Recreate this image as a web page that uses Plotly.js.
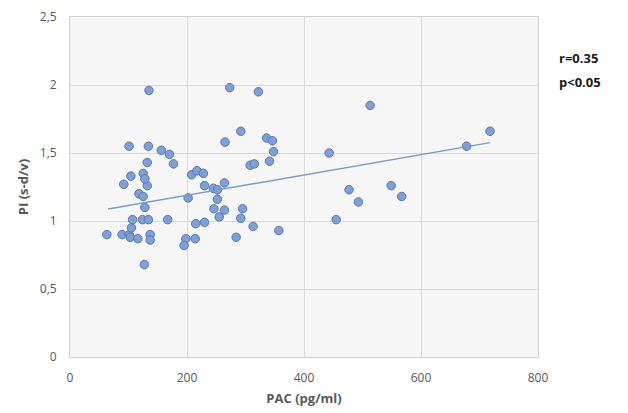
<!DOCTYPE html>
<html>
<head>
<meta charset="utf-8">
<script src="https://cdn.plot.ly/plotly-3.0.1.min.js"></script>
<style>html,body{margin:0;padding:0;background:#fff;}#chart{width:628px;height:413px;}</style>
</head>
<body>
<div id="chart"></div>
<script>
// PAC (pg/ml) values
var pac = [63, 89, 101, 105, 103, 116, 137, 137, 127, 107, 124, 134, 167, 128, 118, 125, 92, 132, 125, 128, 104, 132, 101, 134, 156, 170, 177, 135,
           208, 217, 228, 230, 245, 252, 264, 252, 202, 246, 264, 255, 215, 230, 198, 214, 195, 265, 292, 336, 346, 348, 341, 308, 315, 295, 292, 313, 284, 357, 273, 322,
           443, 477, 493, 455, 513, 549, 567, 678, 718];
// PI (s-d/v) values
var pi = [0.90, 0.90, 0.90, 0.95, 0.88, 0.87, 0.90, 0.86, 0.68, 1.01, 1.01, 1.01, 1.01, 1.10, 1.20, 1.18, 1.27, 1.26, 1.35, 1.31, 1.33, 1.43, 1.55, 1.55, 1.52, 1.49, 1.42, 1.96,
          1.34, 1.37, 1.35, 1.26, 1.24, 1.23, 1.28, 1.16, 1.17, 1.09, 1.08, 1.03, 0.98, 0.99, 0.87, 0.87, 0.82, 1.58, 1.66, 1.61, 1.59, 1.51, 1.44, 1.41, 1.42, 1.09, 1.02, 0.96, 0.88, 0.93, 1.98, 1.95,
          1.50, 1.23, 1.14, 1.01, 1.85, 1.26, 1.18, 1.55, 1.66];
// linear trend line
var trendX = [65, 718];
var trendY = [1.088, 1.576];
var xTicks = [0, 200, 400, 600, 800];
var xTickText = ['0', '200', '400', '600', '800'];
var yTicks = [0, 0.5, 1, 1.5, 2, 2.5];
var yTickText = ['0', '0,5', '1', '1,5', '2', '2,5'];

var traces = [
  {x: pac, y: pi, type: 'scatter', mode: 'markers',
   marker: {size: 8.5, color: '#7f9fd6', line: {color: '#5877b0', width: 1}}, hoverinfo: 'x+y'},
  {x: trendX, y: trendY, type: 'scatter', mode: 'lines',
   line: {color: '#7b9cc8', width: 1.4}, hoverinfo: 'skip'}
];

var fontFam = '"Open Sans", "Liberation Sans", sans-serif';
var layout = {
  width: 628, height: 413,
  margin: {l: 70, r: 90, t: 17, b: 56},
  paper_bgcolor: '#ffffff',
  plot_bgcolor: '#f6f6f6',
  showlegend: false,
  font: {family: fontFam, color: '#595959', size: 12},
  xaxis: {
    range: [0, 800], tickvals: xTicks, ticktext: xTickText,
    showgrid: true, gridcolor: '#d9d9d9', gridwidth: 1,
    showline: true, linecolor: '#d0d0d0', linewidth: 1, mirror: true,
    zeroline: false, ticks: '', ticklabelstandoff: 10,
    tickfont: {family: fontFam, size: 12, color: '#595959'},
    title: {text: '<b>PAC (pg/ml)</b>', font: {family: fontFam, size: 13, color: '#595959'}, standoff: 8}
  },
  yaxis: {
    range: [0, 2.5], tickvals: yTicks, ticktext: yTickText,
    showgrid: true, gridcolor: '#d9d9d9', gridwidth: 1,
    showline: true, linecolor: '#d0d0d0', linewidth: 1, mirror: true,
    zeroline: false, ticks: '', ticklabelstandoff: 10,
    tickfont: {family: fontFam, size: 12, color: '#595959'},
    title: {text: '<b>PI (s-d/v)</b>', font: {family: fontFam, size: 13, color: '#595959'}, standoff: 8}
  },
  annotations: [
    {xref: 'paper', yref: 'paper', x: 1.04, y: 0.88, xanchor: 'left', yanchor: 'middle',
     text: '<b>r=0.35</b>', showarrow: false, font: {family: fontFam, size: 13, color: '#1a1a1a'}},
    {xref: 'paper', yref: 'paper', x: 1.04, y: 0.81, xanchor: 'left', yanchor: 'middle',
     text: '<b>p<0.05</b>', showarrow: false, font: {family: fontFam, size: 13, color: '#1a1a1a'}}
  ]
};

Plotly.newPlot('chart', traces, layout, {displayModeBar: false, staticPlot: true});
</script>
</body>
</html>
